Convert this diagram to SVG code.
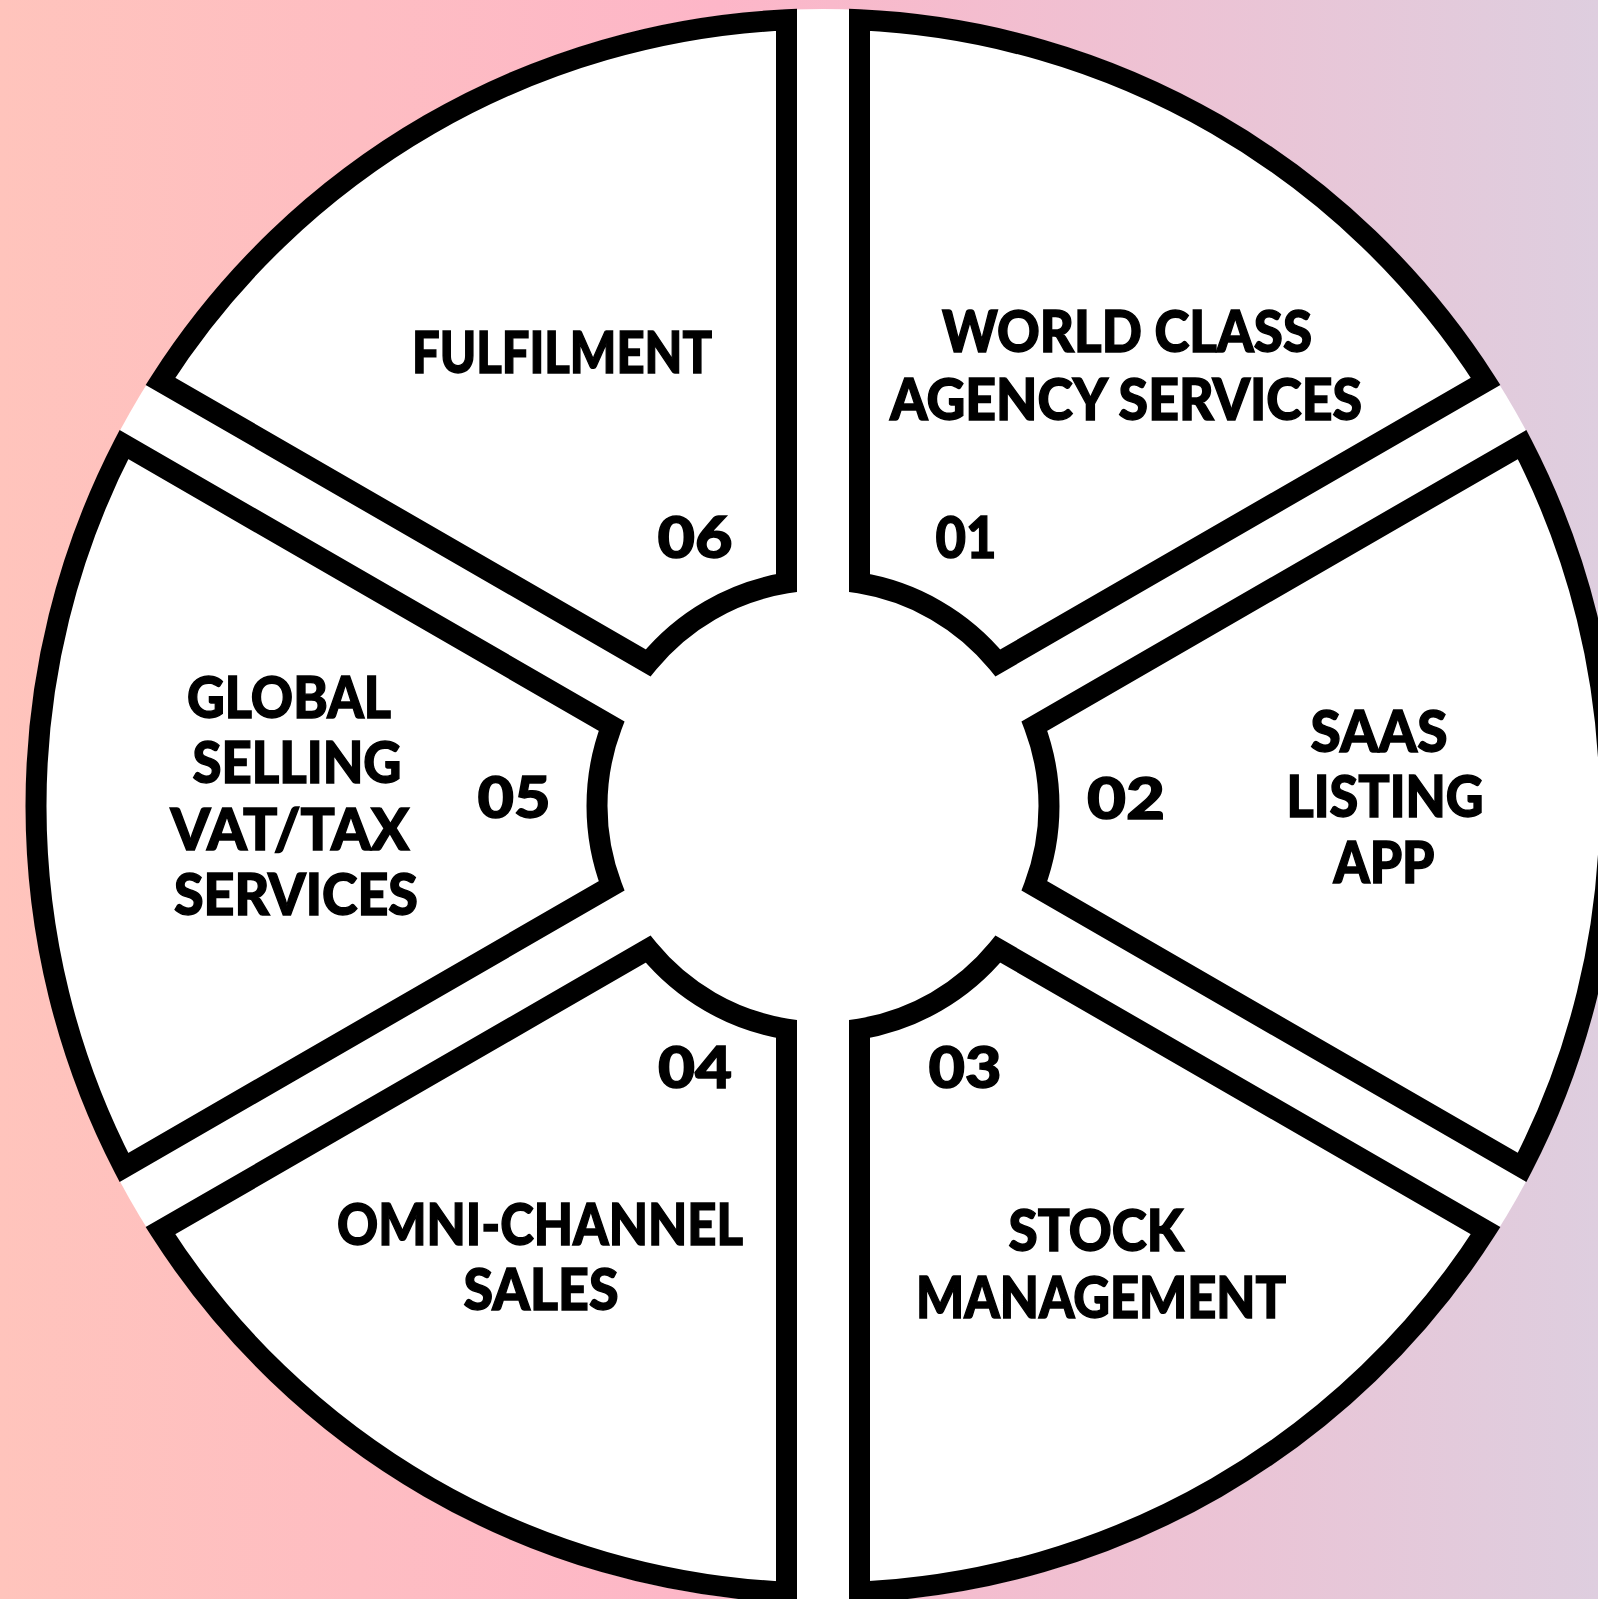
<svg xmlns="http://www.w3.org/2000/svg" width="1598" height="1599" viewBox="0 0 1598 1599">
<defs>
<linearGradient id="bg" x1="0" y1="0" x2="1" y2="0">
<stop offset="0" stop-color="#FFC4BC"/>
<stop offset="0.45" stop-color="#FDB6C8"/>
<stop offset="1" stop-color="#DECEDF"/>
</linearGradient>
</defs>
<style>
.seg{fill:#FFFFFF;stroke:#000000;stroke-width:21;stroke-linejoin:miter;stroke-miterlimit:10}
.t{font-family:Lato,"Liberation Sans",sans-serif;font-weight:900;font-size:57px;fill:#000;stroke:#000;stroke-width:1.4;text-anchor:middle}
</style>
<rect x="0" y="0" width="1598" height="1599" fill="url(#bg)"/>
<circle cx="823" cy="806" r="797" fill="#FFFFFF"/>
<g id="seg01">
<path class="seg" d="M859.5,19.85 A787,787 0 0 1 1485.58,381.31 L997.90,662.88 A226,226 0 0 0 859.5,582.97 Z"/>
<text class="t" x="1127" y="352" textLength="370" lengthAdjust="spacingAndGlyphs">WORLD CLASS</text>
<text class="t" x="1126" y="420" textLength="472" lengthAdjust="spacingAndGlyphs">AGENCY SERVICES</text>
<text class="t" x="966" y="558" textLength="61" lengthAdjust="spacingAndGlyphs">01</text>
</g>
<g id="seg02">
<path class="seg" d="M1522.08,444.53 A787,787 0 0 1 1522.08,1167.47 L1034.40,885.91 A226,226 0 0 0 1034.40,726.10 Z"/>
<text class="t" x="1379" y="752" textLength="137" lengthAdjust="spacingAndGlyphs">SAAS</text>
<text class="t" x="1385" y="817" textLength="197" lengthAdjust="spacingAndGlyphs">LISTING</text>
<text class="t" x="1384" y="883" textLength="101" lengthAdjust="spacingAndGlyphs">APP</text>
<text class="t" x="1126" y="819" textLength="78" lengthAdjust="spacingAndGlyphs">02</text>
</g>
<g id="seg03">
<path class="seg" d="M1485.58,1230.69 A787,787 0 0 1 859.5,1592.15 L859.5,1029.03 A226,226 0 0 0 997.90,949.13 Z"/>
<text class="t" x="965" y="1088" textLength="73" lengthAdjust="spacingAndGlyphs">03</text>
<text class="t" x="1096" y="1251" textLength="175" lengthAdjust="spacingAndGlyphs">STOCK</text>
<text class="t" x="1101" y="1318" textLength="370" lengthAdjust="spacingAndGlyphs">MANAGEMENT</text>
</g>
<g id="seg04">
<path class="seg" d="M786.5,1592.15 A787,787 0 0 1 160.42,1230.69 L648.10,949.13 A226,226 0 0 0 786.5,1029.03 Z"/>
<text class="t" x="695" y="1088" textLength="74" lengthAdjust="spacingAndGlyphs">04</text>
<text class="t" x="540" y="1245" textLength="406" lengthAdjust="spacingAndGlyphs">OMNI-CHANNEL</text>
<text class="t" x="541" y="1310" textLength="155" lengthAdjust="spacingAndGlyphs">SALES</text>
</g>
<g id="seg05">
<path class="seg" d="M123.92,1167.47 A787,787 0 0 1 123.92,444.53 L611.60,726.10 A226,226 0 0 0 611.60,885.91 Z"/>
<text class="t" x="289" y="718" textLength="204" lengthAdjust="spacingAndGlyphs">GLOBAL</text>
<text class="t" x="297" y="783" textLength="209" lengthAdjust="spacingAndGlyphs">SELLING</text>
<text class="t" x="290" y="850" textLength="239" lengthAdjust="spacingAndGlyphs">VAT/TAX</text>
<text class="t" x="296" y="915" textLength="244" lengthAdjust="spacingAndGlyphs">SERVICES</text>
<text class="t" x="514" y="818" textLength="73" lengthAdjust="spacingAndGlyphs">05</text>
</g>
<g id="seg06">
<path class="seg" d="M160.42,381.31 A787,787 0 0 1 786.5,19.85 L786.5,582.97 A226,226 0 0 0 648.10,662.88 Z"/>
<text class="t" x="562" y="373" textLength="300" lengthAdjust="spacingAndGlyphs">FULFILMENT</text>
<text class="t" x="695" y="558" textLength="75" lengthAdjust="spacingAndGlyphs">06</text>
</g>
<g id="connectors"/>
</svg>
